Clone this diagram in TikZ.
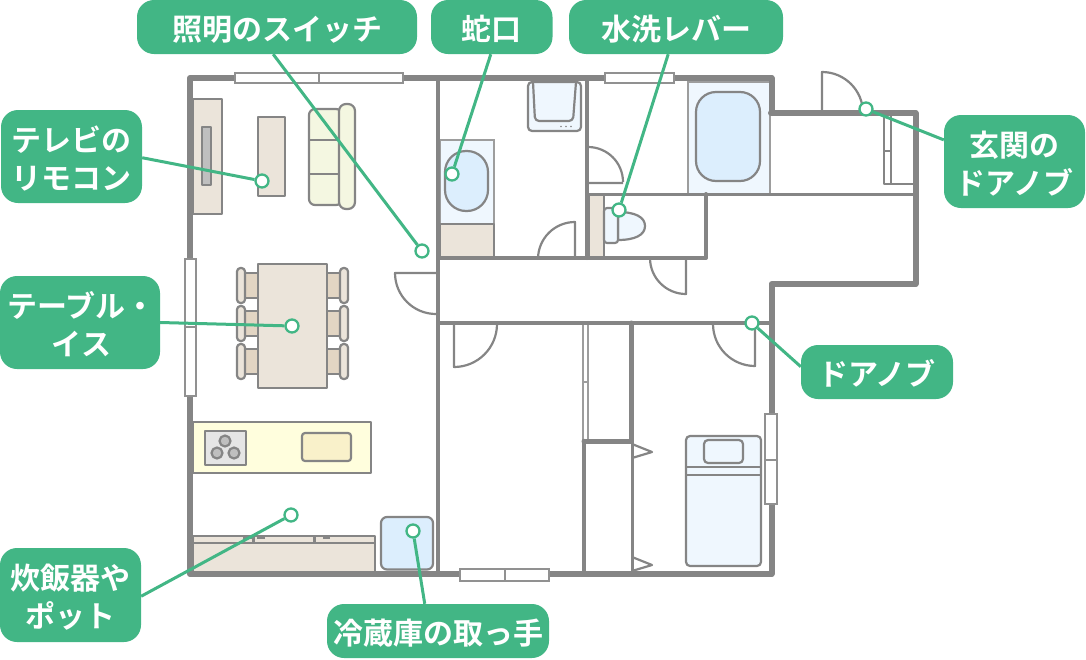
\documentclass[tikz,border=0pt]{standalone}
\usepackage{fontspec}
\newfontfamily\cjk{Noto Sans CJK JP Bold}
\newcommand{\ltop}{\rule{0pt}{30pt}}
\newcommand{\lbot}{\rule[-2.2pt]{0pt}{2.2pt}}
\definecolor{wall}{HTML}{858585}
\definecolor{grn}{HTML}{42B685}
\definecolor{beige}{HTML}{EBE4DA}
\definecolor{seat}{HTML}{E2D5C3}
\definecolor{pale}{HTML}{EFF7FE}
\definecolor{blue}{HTML}{DCEEFD}
\definecolor{sofa}{HTML}{F4F7E1}
\definecolor{kit}{HTML}{FFFEDD}
\definecolor{sinkc}{HTML}{F9F1CA}
\tikzset{
  wallthick/.style={draw=wall,line width=6pt,line cap=round,line join=round},
  wallmid/.style={draw=wall,line width=4pt,line cap=round,line join=round},
  wallthin/.style={draw=wall,line width=3pt},
  furn/.style={draw=wall,line width=2.2pt,line join=round},
  winbox/.style={draw=wall!90,line width=2pt,fill=white},
  pill/.style={fill=grn,rounded corners=17pt,text=white,inner sep=0pt,align=center,font=\cjk\fontsize{30}{38}\selectfont,minimum height=54pt},
  dot/.style={circle,draw=grn,fill=white,line width=2.3pt,minimum size=13pt,inner sep=0pt},
  link/.style={draw=grn,line width=3pt}
}
\begin{document}
\begin{tikzpicture}[x=1pt,y=-1pt]
\useasboundingbox (0,0) rectangle (1086,659);
% furniture fills
\draw[furn,fill=beige] (193,99) rectangle (222,214);
\draw[furn,fill=black!25] (202,127) rectangle (211,185);
\draw[furn,fill=beige] (258,117) rectangle (285,196);
\draw[furn,fill=sofa,rounded corners=6pt] (309,109) rectangle (342,205);
\draw[furn] (309,140) -- (340,140) (309,174) -- (340,174);
\draw[furn,fill=sofa,rounded corners=7pt] (339,104) rectangle (355,209);
% table and chairs
\foreach \yy in {273,311,349}{
  \draw[furn,fill=seat] (244,\yy) rectangle (258,\yy+25);
  \draw[furn,fill=beige,rounded corners=3.5pt] (237,\yy-5) rectangle (245,\yy+30);
  \draw[furn,fill=seat] (327,\yy) rectangle (340,\yy+25);
  \draw[furn,fill=beige,rounded corners=3.5pt] (340,\yy-5) rectangle (348,\yy+30);
}
\draw[furn,fill=beige] (258,264) rectangle (327,388);
% kitchen
\draw[furn,fill=kit] (193,422) rectangle (371,473);
\draw[furn,fill=black!10] (205,431) rectangle (246,465);
\draw[furn,fill=black!25] (225,441) circle (5.5);
\draw[furn,fill=black!25] (217,453) circle (5.5);
\draw[furn,fill=black!25] (234,453) circle (5.5);
\draw[furn,fill=sinkc,rounded corners=3pt] (302,433) rectangle (351,461);
% counter
\draw[furn,fill=beige] (193,536) rectangle (375,572);
\draw[furn] (193,543) -- (375,543) (253.5,536) -- (253.5,543) (314.5,536) -- (314.5,543);
\draw[wall,line width=1.5pt] (243,538) -- (252,538) (257,538) -- (265,538) (323,538) -- (330,538);
\draw[furn,fill=blue,rounded corners=6pt] (381,517) rectangle (433,569.5);
% wash basin
\draw[wall!80,line width=1.5pt,fill=pale] (440,140) rectangle (494,224);
\draw[furn,fill=blue,rounded corners=21pt] (445,151) rectangle (488,211);
\draw[furn,fill=beige] (440,224) rectangle (494,258);
% washer
\draw[furn,fill=pale,rounded corners=4pt] (528,82) rectangle (581,131);
\draw[furn,rounded corners=4pt] (533,82) -- (535,121) -- (573,121) -- (576,82);
\fill[wall] (561,126.5) circle (.8) (566,126.5) circle (.8) (571,126.5) circle (.8);
% bath
\draw[wall!80,line width=1.5pt,fill=pale] (688,82) rectangle (770,194);
\draw[furn,fill=blue,rounded corners=20pt] (696,92) rectangle (760,181);
% toilet
\draw[furn,fill=beige] (589,195) rectangle (604,258);
\draw[furn,fill=pale] (618,212) .. controls (635,212) and (645,217) .. (645,226) .. controls (645,235) and (635,240) .. (618,240) -- cycle;
\draw[furn,fill=pale,rounded corners=3pt] (604,208) rectangle (618,243);
% bed
\draw[furn,fill=pale,rounded corners=4pt] (686,436) rectangle (761,566);
\draw[furn,rounded corners=4pt] (704,440) rectangle (743,463);
\draw[furn] (686,467) -- (761,467) (686,475) -- (761,475);
% doors
\draw[furn] (623,183) -- (588,183) (588,147) arc[start angle=-90,end angle=0,radius=35];
\draw[furn] (575,258) -- (575,222) arc[start angle=-90,end angle=-180,radius=37];
\draw[furn] (686,259) -- (686,294) arc[start angle=90,end angle=180,radius=36];
\draw[furn] (822,113) -- (822,72) arc[start angle=-90,end angle=0,radius=41];
\draw[furn] (438,273) -- (395,273) arc[start angle=180,end angle=90,radius=41];
\draw[furn] (454,323) -- (454,367) arc[start angle=90,end angle=0,radius=43];
\draw[furn] (755,323) -- (755,366) arc[start angle=90,end angle=180,radius=42];
\draw[furn] (632,444) -- (652,452) -- (632,458);
\draw[furn] (632,557) -- (652,565) -- (632,571);
% shoe cabinet and closet
\draw[furn] (884,113) -- (884,184) -- (915,184) (891,113) -- (891,184) (884,151) -- (891,151);
\draw[furn,draw=wall!80] (583,323) -- (583,441) (588,323) -- (588,441) (583,382) -- (588,382);
% walls
\draw[wallmid] (438,78) -- (438,574);
\draw[wallmid] (586.5,78) -- (586.5,258);
\draw[wallmid] (438,258) -- (706,258) -- (706,194);
\draw[wallthin] (586,194) -- (917,194);
\draw[wallmid] (438,323) -- (771,323);
\draw[wallthick] (771,113) -- (915.5,113) -- (915.5,284) -- (771.5,284) -- (771.5,574) -- (190,574) -- (190,78) -- (771.5,78) -- (771.5,113);
\draw[wallmid,line width=4.5pt] (584,441) -- (584,574);
\draw[wallmid,line width=5pt] (584,441) -- (631,441) -- (631,323);
\draw[wallthin] (632,441) -- (632,574);
% windows
\draw[winbox] (235,73) rectangle (403,83) (319,73) -- (319,83);
\draw[winbox] (605,73) rectangle (674,83);
\draw[winbox] (185,259) rectangle (196,396) (185,327) -- (196,327);
\draw[winbox] (460,569) rectangle (549,581) (505,569) -- (505,581);
\draw[winbox] (765,414) rectangle (777,504) (765,460) -- (777,460);
% labels
\node[pill,minimum width=280pt] (p1) at (277,27) {\ltop 照明のスイッチ\lbot};
\node[pill,minimum width=121.5pt] (p2) at (491.75,27) {\ltop 蛇口\lbot};
\node[pill,minimum width=214pt] (p3) at (676,27) {\ltop 水洗レバー\lbot};
\node[pill,minimum width=141pt,minimum height=93pt] (p4) at (71.5,156.5) {\ltop テレビの\\リモコン\lbot};
\node[pill,minimum width=160pt,minimum height=93pt] (p5) at (80,322.5) {\ltop\hspace*{3pt}テーブル・\\\hspace*{3pt}イス\lbot};
\node[pill,minimum width=141pt,minimum height=94pt] (p6) at (70.5,595) {\ltop 炊飯器や\\ポット\lbot};
\node[pill,minimum width=222pt] (p7) at (438,631) {\ltop 冷蔵庫の取っ手\lbot};
\node[pill,minimum width=152pt] (p8) at (877,372) {\ltop ドアノブ\lbot};
\node[pill,minimum width=141pt,minimum height=93pt] (p9) at (1014.5,161.5) {\ltop 玄関の\\ドアノブ\lbot};
% dots
\node[dot] (d1) at (422,251) {};
\node[dot] (d2) at (452,174) {};
\node[dot] (d3) at (619,210) {};
\node[dot] (d4) at (262,181) {};
\node[dot] (d5) at (292,326) {};
\node[dot] (d6) at (291,515) {};
\node[dot] (d7) at (413,531) {};
\node[dot] (d8) at (752,323) {};
\node[dot] (d9) at (866,109) {};
% connectors
\draw[link] (p1.-98) -- (d1);
\draw[link] (p2.-92) -- (d2);
\draw[link] (p3.-106.5) -- (d3);
\draw[link] (p4.-1) -- (d4);
\draw[link] (p5.0) -- (d5);
\draw[link] (p6.-1) -- (d6);
\draw[link] (p7.116.6) -- (d7);
\draw[link] (p8.176) -- (d8);
\draw[link] (p9.163) -- (d9);
\end{tikzpicture}
\end{document}
